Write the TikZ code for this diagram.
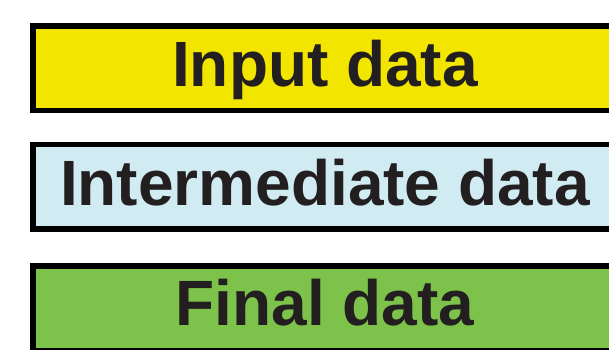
\documentclass[tikz,border=0pt]{standalone}
\usepackage{fontspec}
\setmainfont{Liberation Sans}
\definecolor{yel}{HTML}{F2E600}
\definecolor{lblue}{HTML}{D0ECF2}
\definecolor{lgreen}{HTML}{7DC24B}
\definecolor{txt}{HTML}{231F20}
\begin{document}
\begin{tikzpicture}[x=1pt,y=-1pt,
  box/.style={draw=black, line width=5.5pt, rectangle, minimum width=584.5pt, minimum height=84.5pt, inner sep=0pt},
  lbl/.style={anchor=base, text=txt, font=\fontsize{64}{64}\selectfont\bfseries, inner sep=0pt}]
\useasboundingbox (0,0) rectangle (609,349);
\begin{scope}
\clip (0,0) rectangle (609,349);
\node[box, fill=yel] (b1) at (325,68) {};
\node[box, fill=lblue] (b2) at (325,186.5) {};
\node[box, fill=lgreen] (b3) at (325,308) {};
\end{scope}
\node[lbl] (t1) at (325,86) {Input data};
\node[lbl] (t2) at (325,205) {Intermediate data};
\node[lbl] (t3) at (325,325) {Final data};
\end{tikzpicture}
\end{document}
